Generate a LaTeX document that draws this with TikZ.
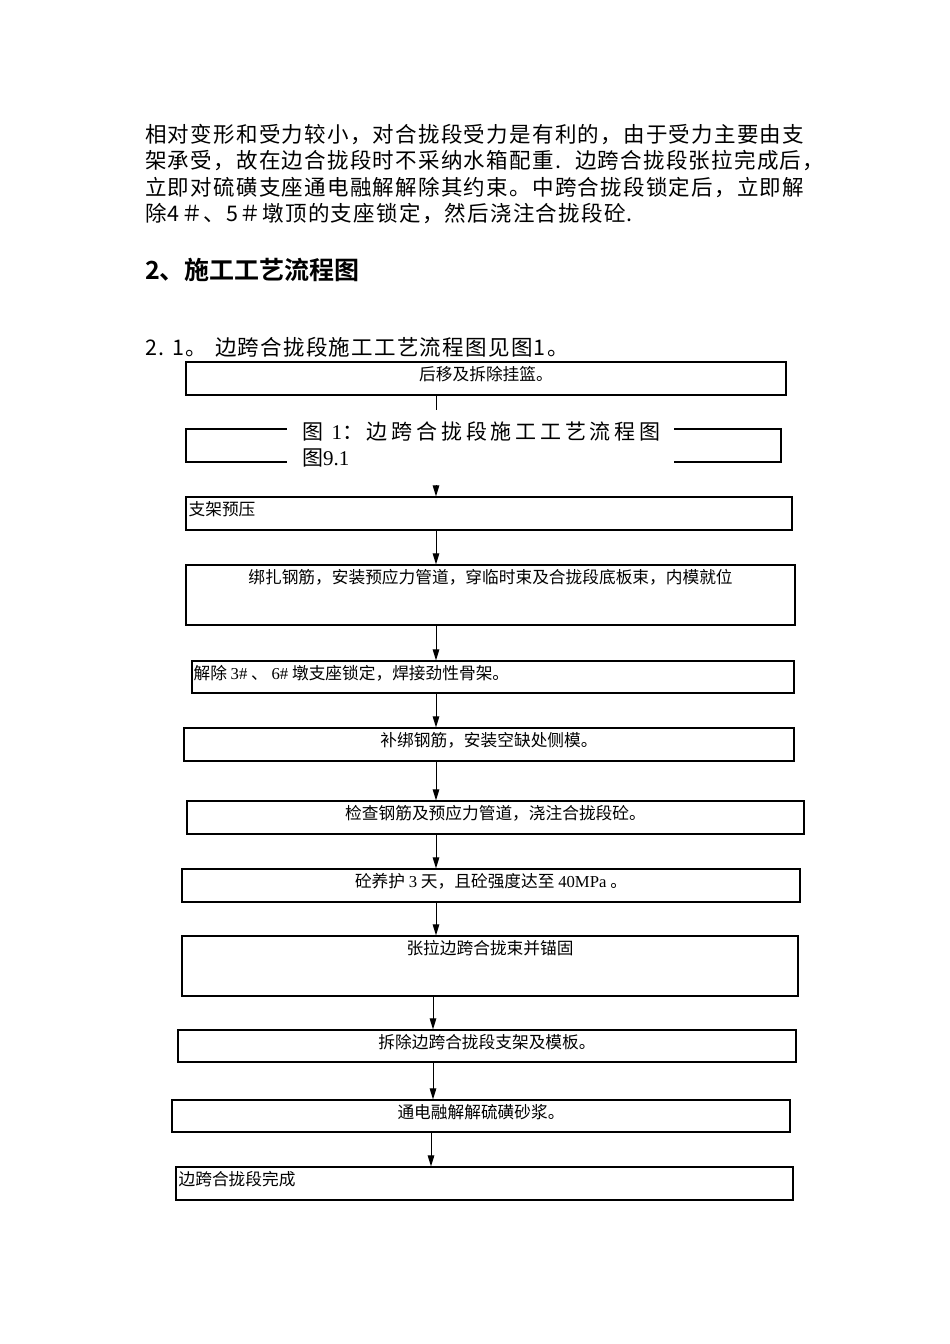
\documentclass[tikz,border=0pt]{standalone}
\usepackage{fontspec}
\setmainfont{Liberation Serif}
\newfontfamily\cjk{Noto Sans CJK SC}[BoldFont={Noto Sans CJK SC Bold}]
\newfontfamily\cjkbody{Noto Sans CJK SC}[LetterSpace=5.9]
\newfontfamily\cjkls{Noto Sans CJK SC}[LetterSpace=18]
\newfontfamily\lat{Liberation Serif}
\newfontfamily\latls{Liberation Serif}[LetterSpace=18]
\usetikzlibrary{arrows.meta}
\tikzset{
  box/.style={draw=black, line width=1.2pt, inner sep=0pt},
  btxt/.style={font=\cjk\fontsize{16.7}{19}\selectfont, inner sep=2pt, text=black},
  body/.style={font=\cjkbody\fontsize{21.5}{26}\selectfont, inner sep=0pt, anchor=west, text=black},
  arr/.style={line width=1pt, -{Triangle[length=11pt,width=6.5pt]}},
}
\begin{document}
\begin{tikzpicture}[x=1pt,y=-1pt]
\fill[white] (0,0) rectangle (950,1344);
\useasboundingbox (0,0) rectangle (950,1344);

% body text
\node[body] (l1) at (145,135) {相对变形和受力较小，对合拢段受力是有利的，由于受力主要由支};
\node[body] (l2) at (145,161) {架承受，故在边合拢段时不采纳水箱配重.\hspace{14pt}边跨合拢段张拉完成后，};
\node[body] (l3) at (145,188) {立即对硫磺支座通电融解解除其约束。中跨合拢段锁定后，立即解};
\node[body] (l4) at (145,214) {除4＃、5＃墩顶的支座锁定，然后浇注合拢段砼.};

\node[anchor=west, inner sep=0pt, font=\cjk\bfseries\fontsize{25}{30}\selectfont] (head) at (145,270) {2、施工工艺流程图};

\node[body] (sub) at (145,347) {2.\hspace{8pt}1。\hspace{8pt}边跨合拢段施工工艺流程图见图1。};

% boxes
\node[box, minimum width=600pt, minimum height=33pt, label={[btxt,anchor=north,yshift=-3pt]north:{后移及拆除挂篮。}}] (b1) at (486,378.5) {};
\node[box, minimum width=595pt, minimum height=33pt] (b2) at (483.5,445.5) {};
\node[box, minimum width=606pt, minimum height=33pt, label={[btxt,anchor=north west,yshift=-3pt,xshift=1pt]north west:{支架预压}}] (b3) at (489,513.5) {};
\node[box, minimum width=609pt, minimum height=60pt, label={[btxt,anchor=north,yshift=-3pt]north:{绑扎钢筋，安装预应力管道，穿临时束及合拢段底板束，内模就位}}] (b4) at (490.5,595) {};
\node[box, minimum width=602pt, minimum height=32pt, label={[btxt,anchor=north west,yshift=-3pt,xshift=0pt]north west:{解除 {\lat 3\#} 、 {\lat 6\#} 墩支座锁定，焊接劲性骨架。}}] (b5) at (493,677) {};
\node[box, minimum width=610pt, minimum height=33pt, label={[btxt,anchor=north,yshift=-3pt]north:{补绑钢筋，安装空缺处侧模。}}] (b6) at (489,744.5) {};
\node[box, minimum width=617pt, minimum height=33pt, label={[btxt,anchor=north,yshift=-3pt]north:{检查钢筋及预应力管道，浇注合拢段砼。}}] (b7) at (495.5,817.5) {};
\node[box, minimum width=618pt, minimum height=33pt, label={[btxt,anchor=north,yshift=-3pt]north:{砼养护 {\lat 3} 天，且砼强度达至 {\lat 40MPa} 。}}] (b8) at (491,885.5) {};
\node[box, minimum width=616pt, minimum height=60pt, label={[btxt,anchor=north,yshift=-3pt]north:{张拉边跨合拢束并锚固}}] (b9) at (490,966) {};
\node[box, minimum width=618pt, minimum height=32pt, label={[btxt,anchor=north,yshift=-3pt]north:{拆除边跨合拢段支架及模板。}}] (b10) at (487,1046) {};
\node[box, minimum width=618pt, minimum height=32pt, label={[btxt,anchor=north,yshift=-3pt]north:{通电融解解硫磺砂浆。}}] (b11) at (481,1116) {};
\node[box, minimum width=617pt, minimum height=33pt, label={[btxt,anchor=north west,yshift=-3pt,xshift=1pt]north west:{边跨合拢段完成}}] (b12) at (484.5,1183.5) {};

% x positions of connectors
\coordinate (xa) at (436,0);
\coordinate (xb) at (433,0);
\coordinate (xc) at (431,0);

\draw[arr] (b1.south -| xa) -- (b3.north -| xa);
\draw[arr] (b3.south -| xa) -- (b4.north -| xa);
\draw[arr] (b4.south -| xa) -- (b5.north -| xa);
\draw[arr] (b5.south -| xa) -- (b6.north -| xa);
\draw[arr] (b6.south -| xa) -- (b7.north -| xa);
\draw[arr] (b7.south -| xa) -- (b8.north -| xa);
\draw[arr] (b8.south -| xa) -- (b9.north -| xa);
\draw[arr] (b9.south -| xb) -- (b10.north -| xb);
\draw[arr] (b10.south -| xb) -- (b11.north -| xb);
\draw[arr] (b11.south -| xc) -- (b12.north -| xc);

% caption covering the middle of box 2
\node[fill=white, minimum width=387pt, minimum height=75pt, inner sep=0pt] (capbg) at (480.5,447.5) {};
\node[anchor=north west, inner sep=0pt, align=left, font=\cjkls\fontsize{21}{26}\selectfont] (cap) at (302,422)
  {图 {\latls 1}：边跨合拢段施工工艺流程图\\图{\lat 9.1}};
\end{tikzpicture}
\end{document}
